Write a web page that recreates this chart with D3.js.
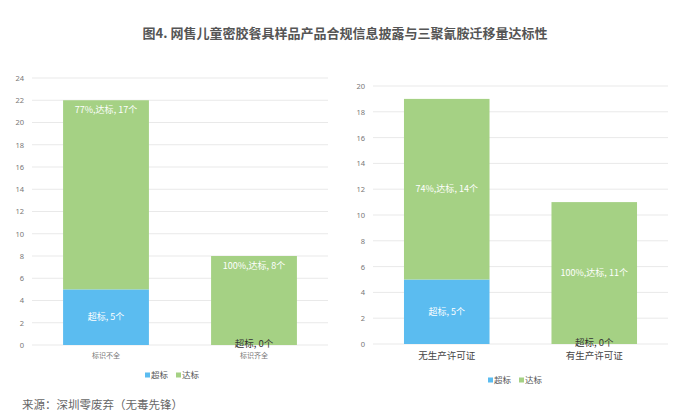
<!DOCTYPE html>
<html>
<head>
<meta charset="utf-8">
<script src="https://cdn.jsdelivr.net/npm/d3@7"></script>
<style>
  body { margin: 0; background: #fff; }
  svg { font-family: "Noto Sans CJK SC", "Noto Sans", sans-serif; }
</style>
</head>
<body>
<svg width="691" height="419"></svg>
<script>
// data
const leftCats = ['标识不全', '标识齐全'];
const leftOver = [5, 0];
const leftPass = [17, 8];
const leftPct = ['77%', '100%'];
const leftTicks = [0, 2, 4, 6, 8, 10, 12, 14, 16, 18, 20, 22, 24];

const rightCats = ['无生产许可证', '有生产许可证'];
const rightOver = [5, 0];
const rightPass = [14, 11];
const rightPct = ['74%', '100%'];
const rightTicks = [0, 2, 4, 6, 8, 10, 12, 14, 16, 18, 20];

const seriesNames = ['超标', '达标'];
const colors = ['#5bbcf0', '#a5d184'];

const svg = d3.select('svg');

// title
svg.append('text')
  .attr('x', 345).attr('y', 38)
  .attr('text-anchor', 'middle')
  .style('font-size', '13px').style('font-weight', 'bold')
  .style('fill', '#555')
  .text('图4. 网售儿童密胶餐具样品产品合规信息披露与三聚氰胺迁移量达标性');

// source
svg.append('text')
  .attr('x', 22).attr('y', 409)
  .style('font-size', '11.5px').style('fill', '#666')
  .text('来源：深圳零废弃（无毒先锋）');

function drawChart(cfg) {
  var x = d3.scaleBand().domain(cfg.cats).range(cfg.xr)
    .paddingInner(0.42).paddingOuter(0.21);
  var y = d3.scaleLinear().domain([0, d3.max(cfg.ticks)]).range(cfg.yr);
  var g = svg.append('g');

  // grid lines
  g.selectAll('.grid').data(cfg.ticks).join('line')
    .attr('x1', cfg.xr[0]).attr('x2', cfg.xr[1])
    .attr('y1', d => y(d)).attr('y2', d => y(d))
    .style('stroke', '#e9e9e9').style('stroke-width', 1);

  // y axis, no domain line
  var ax = g.append('g').attr('transform', 'translate(' + (cfg.xr[0] - 4) + ',0)')
    .call(d3.axisLeft(y).tickValues(cfg.ticks).tickSize(0).tickPadding(4));
  ax.select('.domain').remove();
  ax.selectAll('text').style('font-size', '7.5px').style('fill', '#777')
    .style('font-family', '"Noto Sans", sans-serif');

  var rows = cfg.cats.map((c, i) => ({cat: c, over: cfg.over[i], pass: cfg.pass[i], pct: cfg.pct[i]}));

  // blue segment
  g.selectAll('.over').data(rows).join('rect')
    .attr('x', d => x(d.cat)).attr('width', x.bandwidth())
    .attr('y', d => y(d.over)).attr('height', d => y(0) - y(d.over))
    .style('fill', colors[0]);
  // green segment
  g.selectAll('.pass').data(rows).join('rect')
    .attr('x', d => x(d.cat)).attr('width', x.bandwidth())
    .attr('y', d => y(d.over + d.pass)).attr('height', d => y(d.over) - y(d.over + d.pass))
    .style('fill', colors[1]);

  // labels
  rows.forEach(d => {
    var cx = x(d.cat) + x.bandwidth() / 2;
    if (d.over > 0) {
      g.append('text').attr('x', cx).attr('y', (y(0) + y(d.over)) / 2 + 3)
        .attr('text-anchor', 'middle').style('font-size', '9px').style('fill', '#fff')
        .text('超标, ' + d.over + '个');
    } else {
      g.append('text').attr('x', cx).attr('y', y(0) + 2)
        .attr('text-anchor', 'middle').style('font-size', '9.5px').style('fill', '#333')
        .text('超标, 0个');
    }
    var ly = cfg.inside
      ? y(d.over + d.pass) + 13
      : (y(d.over) + y(d.over + d.pass)) / 2 + 3;
    g.append('text').attr('x', cx).attr('y', ly)
      .attr('text-anchor', 'middle').style('font-size', '9px').style('fill', '#fff')
      .text(d.pct + ',达标, ' + d.pass + '个');

    g.append('text').attr('x', cx).attr('y', y(0) + cfg.catDy)
      .attr('text-anchor', 'middle').style('font-size', cfg.catSize).style('fill', cfg.catColor)
      .text(d.cat);
  });

  // legend
  var lg = g.append('g').attr('transform', 'translate(' + cfg.legend[0] + ',' + cfg.legend[1] + ')');
  var off = 0;
  seriesNames.forEach((s, i) => {
    lg.append('rect').attr('x', off).attr('y', -2.5).attr('width', 5).attr('height', 5).style('fill', colors[i]);
    lg.append('text').attr('x', off + 6).attr('y', 3).style('font-size', '8.5px').style('fill', '#555').text(s);
    off += 31;
  });
}

drawChart({
  cats: leftCats, over: leftOver, pass: leftPass, pct: leftPct, ticks: leftTicks,
  xr: [32, 328], yr: [345, 78], inside: true,
  catDy: 13, catSize: '7px', catColor: '#777', legend: [145, 375]
});

drawChart({
  cats: rightCats, over: rightOver, pass: rightPass, pct: rightPct, ticks: rightTicks,
  xr: [373, 668], yr: [344, 86], inside: false,
  catDy: 15, catSize: '9.5px', catColor: '#444', legend: [488, 380]
});
</script>
</body>
</html>
